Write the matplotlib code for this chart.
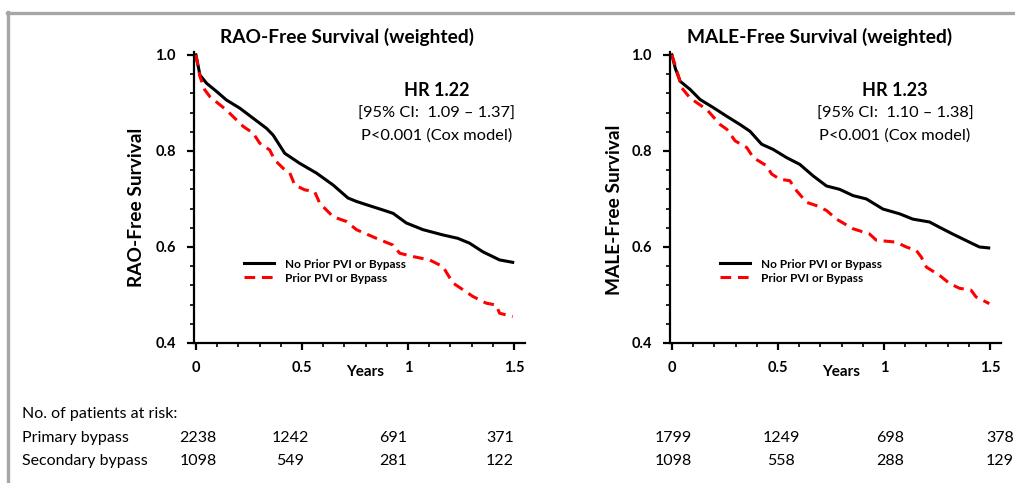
import matplotlib.pyplot as plt
import numpy as np
from matplotlib.lines import Line2D
from matplotlib.ticker import MultipleLocator

plt.rcParams['font.family'] = ['Lato', 'DejaVu Sans']

# RAO-free survival
rao_t_none = [0, 0.011, 0.019, 0.05, 0.097, 0.144, 0.207, 0.27, 0.333, 0.364, 0.419, 0.49,
              0.568, 0.647, 0.717, 0.756, 0.804, 0.882, 0.93, 0.992, 1.071, 1.165, 1.235,
              1.29, 1.353, 1.432, 1.494]
rao_s_none = [1.0, 0.976, 0.958, 0.941, 0.924, 0.906, 0.889, 0.868, 0.847, 0.833, 0.795, 0.774,
              0.754, 0.729, 0.702, 0.695, 0.688, 0.677, 0.670, 0.650, 0.636, 0.625, 0.618,
              0.608, 0.590, 0.573, 0.568]
rao_t_prior = [0, 0.019, 0.042, 0.066, 0.144, 0.223, 0.27, 0.301, 0.348, 0.372, 0.411, 0.443,
               0.466, 0.513, 0.56, 0.584, 0.647, 0.71, 0.757, 0.851, 0.929, 0.961, 1.024,
               1.102, 1.165, 1.212, 1.259, 1.306, 1.369, 1.416, 1.432, 1.494]
rao_s_prior = [1.0, 0.955, 0.927, 0.913, 0.885, 0.851, 0.837, 0.816, 0.802, 0.781, 0.764, 0.754,
               0.729, 0.719, 0.715, 0.691, 0.663, 0.653, 0.636, 0.618, 0.604, 0.587, 0.580,
               0.573, 0.559, 0.525, 0.511, 0.497, 0.483, 0.479, 0.462, 0.455]

# MALE-free survival
male_t_none = [0, 0.016, 0.039, 0.086, 0.133, 0.196, 0.259, 0.321, 0.368, 0.423, 0.478, 0.541,
               0.603, 0.666, 0.729, 0.791, 0.854, 0.917, 0.995, 1.074, 1.136, 1.215, 1.262,
               1.324, 1.403, 1.45, 1.494]
male_s_none = [1.0, 0.972, 0.945, 0.928, 0.907, 0.890, 0.872, 0.855, 0.841, 0.814, 0.803, 0.786,
               0.772, 0.748, 0.727, 0.720, 0.707, 0.700, 0.679, 0.669, 0.658, 0.652, 0.641,
               0.627, 0.610, 0.600, 0.598]
male_t_prior = [0, 0.024, 0.047, 0.086, 0.165, 0.227, 0.259, 0.298, 0.353, 0.384, 0.447, 0.47,
                0.509, 0.556, 0.588, 0.635, 0.682, 0.729, 0.776, 0.854, 0.932, 0.964, 1.058,
                1.105, 1.152, 1.176, 1.2, 1.262, 1.309, 1.356, 1.411, 1.434, 1.497]
male_s_prior = [1.0, 0.966, 0.931, 0.910, 0.886, 0.855, 0.845, 0.821, 0.807, 0.786, 0.769, 0.752,
                0.741, 0.738, 0.717, 0.693, 0.686, 0.676, 0.658, 0.638, 0.627, 0.614, 0.610,
                0.600, 0.593, 0.579, 0.558, 0.541, 0.524, 0.514, 0.510, 0.496, 0.482]

titles = ['RAO-Free Survival (weighted)', 'MALE-Free Survival (weighted)']
ylabels = ['RAO-Free Survival', 'MALE-Free Survival']
hr_text = ['HR 1.22', 'HR 1.23']
ci_text = ['[95% CI:  1.09 \u2013 1.37]', '[95% CI:  1.10 \u2013 1.38]']
p_text = ['P<0.001 (Cox model)', 'P<0.001 (Cox model)']
legend_labels = ['No Prior PVI or Bypass', 'Prior PVI or Bypass']

risk_rows = ['Primary bypass', 'Secondary bypass']
risk_rao = [[2238, 1242, 691, 371], [1098, 549, 281, 122]]
risk_male = [[1799, 1249, 698, 378], [1098, 558, 288, 129]]

W, H = 1015, 483
fig = plt.figure(figsize=(W / 100, H / 100), dpi=100)

def px(x, y):
    # pixel position -> figure fraction
    return x / W, 1 - y / H

panels = [
    dict(left=194, t=(rao_t_none, rao_t_prior), s=(rao_s_none, rao_s_prior),
         title_x=347, ylab_x=137, ylab_y=207, ann_x=437, risk=risk_rao,
         risk_x=[198, 290, 393, 500]),
    dict(left=670, t=(male_t_none, male_t_prior), s=(male_s_none, male_s_prior),
         title_x=820, ylab_x=615, ylab_y=210, ann_x=895, risk=risk_male,
         risk_x=[673, 781, 890, 1000]),
]

for i, p in enumerate(panels):
    ax = fig.add_axes([p['left'] / W, (H - 343) / H, 331 / W, 291 / H])
    ax.plot(p['t'][0], p['s'][0], color='black', lw=2.2, label=legend_labels[0])
    ax.plot(p['t'][1], p['s'][1], color='#ff0000', lw=2.2, dashes=(3.5, 2.2),
            label=legend_labels[1])
    ax.set_xlim(-0.009, 1.552)
    ax.set_ylim(0.4, 1.006)
    for side in ['top', 'right']:
        ax.spines[side].set_visible(False)
    for side in ['left', 'bottom']:
        ax.spines[side].set_linewidth(1.6)
    ax.set_xticks([0, 0.5, 1, 1.5])
    ax.set_xticklabels(['0', '0.5', '1', '1.5'])
    ax.xaxis.set_minor_locator(MultipleLocator(0.1))
    ax.set_yticks([0.4, 0.6, 0.8, 1.0])
    ax.set_yticklabels(['0.4', '0.6', '0.8', '1.0'])
    ax.yaxis.set_minor_locator(MultipleLocator(0.04))
    ax.tick_params(which='major', length=5, width=1.6, direction='out', labelsize=10.5, pad=8)
    ax.tick_params(which='minor', length=3, width=1.2, direction='out')
    for lab in ax.get_xticklabels() + ax.get_yticklabels():
        lab.set_fontweight('bold')
    ax.text(0.8, -0.1, 'Years', transform=ax.get_xaxis_transform(), ha='center',
            va='center', fontsize=11, fontweight='bold')
    ax.legend(loc='upper left', bbox_to_anchor=(0.15, 0.29), frameon=False,
              prop=dict(weight='bold', size=8.5), handlelength=2.6,
              handletextpad=0.9, borderpad=0, borderaxespad=0, labelspacing=0.25)

    fig.text(*px(p['title_x'], 37), titles[i], ha='center', va='center',
             fontsize=13.8, fontweight='bold')
    fig.text(*px(p['ylab_x'], p['ylab_y']), ylabels[i], ha='center', va='center',
             rotation=90, fontsize=13.8, fontweight='bold')
    fig.text(*px(p['ann_x'], 91), hr_text[i], ha='center', va='center',
             fontsize=13, fontweight='bold')
    fig.text(*px(p['ann_x'], 114), ci_text[i], ha='center', va='center', fontsize=11.8)
    fig.text(*px(p['ann_x'], 136), p_text[i], ha='center', va='center', fontsize=11.8)

    for r, row in enumerate(p['risk']):
        for x, n in zip(p['risk_x'], row):
            fig.text(*px(x, 438 + 23 * r), str(n), ha='center', va='center', fontsize=11.5)

fig.text(*px(22, 414), 'No. of patients at risk:', ha='left', va='center', fontsize=11.5)
for r, name in enumerate(risk_rows):
    fig.text(*px(22, 438 + 23 * r), name, ha='left', va='center', fontsize=11.5)

# grey frame on top and left
fig.add_artist(Line2D([7 / W, 1], [1 - 13 / H, 1 - 13 / H], color='#a6a6a6', lw=2.4,
                      transform=fig.transFigure))
fig.add_artist(Line2D([8 / W, 8 / W], [0, 1 - 12 / H], color='#a6a6a6', lw=2.4,
                      transform=fig.transFigure))

fig.savefig('out.png', dpi=100)
